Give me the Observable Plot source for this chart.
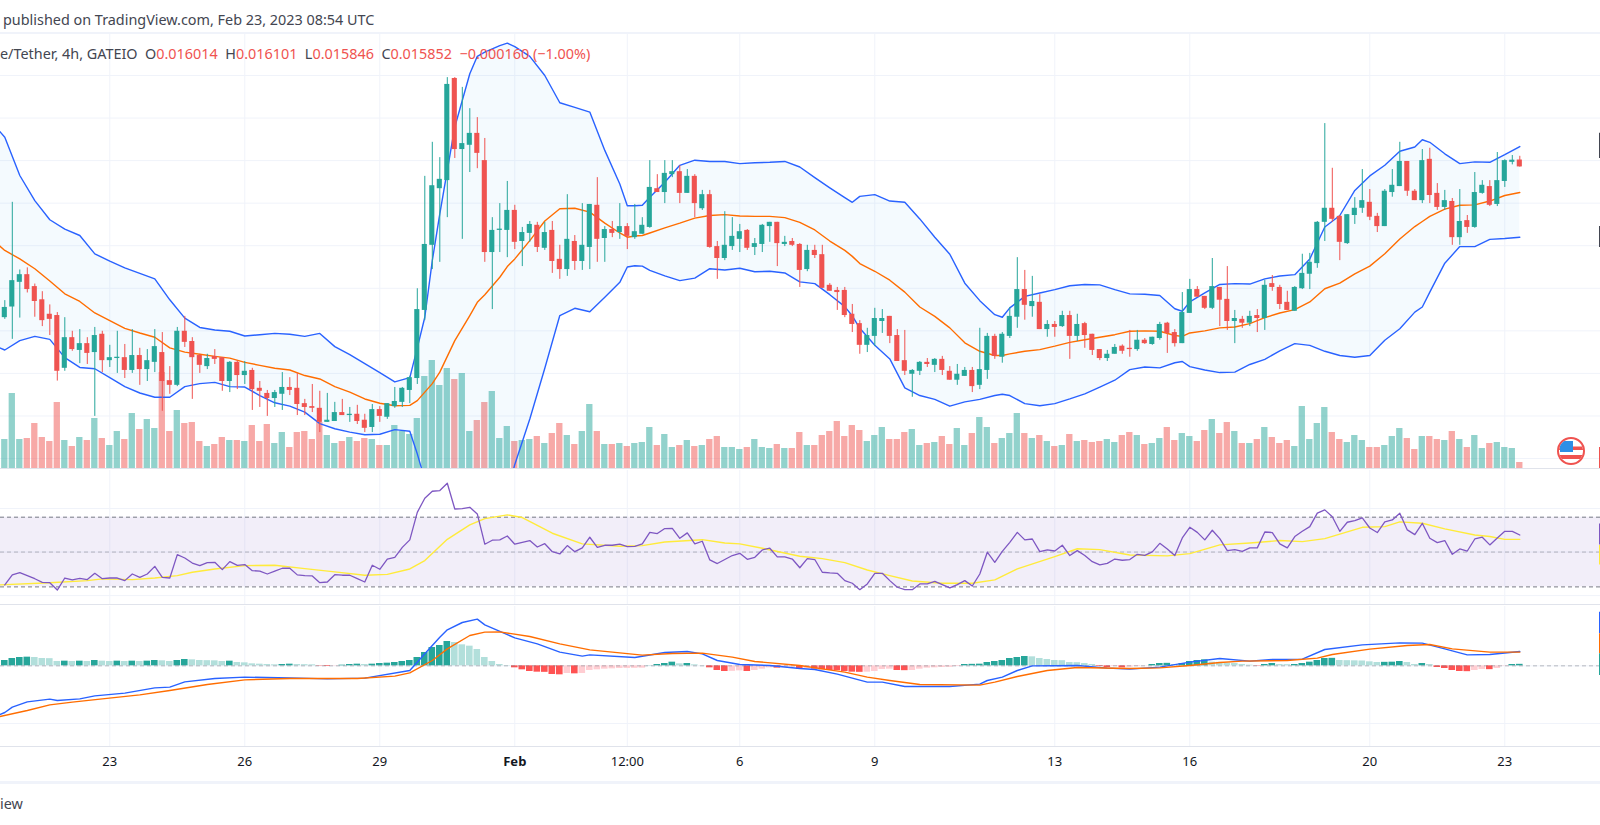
<!DOCTYPE html>
<html><head><meta charset="utf-8">
<script src="https://cdn.jsdelivr.net/npm/d3@7"></script>
<script src="https://cdn.jsdelivr.net/npm/@observablehq/plot@0.6"></script>
<style>
html,body{margin:0;padding:0;background:#fff;overflow:hidden}
#page{position:relative;width:1600px;height:825px;overflow:hidden;font-family:"Noto Sans",sans-serif;color:#131722}
.layer{position:absolute;left:0}
.layer svg{display:block;background:transparent}
.sep{position:absolute;left:0;width:1600px}
#pub{position:absolute;left:3px;top:10px;font-size:14.4px;white-space:nowrap;color:#434651}
#leg{position:absolute;left:0;top:44px;font-size:14.4px;white-space:pre;color:#434651;z-index:10}
#leg b{font-weight:400;color:#ef5350}
#foot{position:absolute;left:0;top:794px;font-size:14.4px;color:#434651;white-space:nowrap}
#flag{position:absolute;left:1556px;top:436px;z-index:11}
</style></head><body>
<div id="page">
  <div id="pub">published on TradingView.com, Feb 23, 2023 08:54 UTC</div>
  <div id="leg">e/Tether, 4h, GATEIO  O<b>0.016014</b>  H<b>0.016101</b>  L<b>0.015846</b>  C<b>0.015852</b>  <b>−0.000160 (−1.00%)</b></div>
  <div id="foot">iew</div>
  <div class="sep" style="top:32px;height:2px;background:#f0f3fa"></div>
  <div class="sep" style="top:468px;height:1px;background:#e0e3eb"></div>
  <div class="sep" style="top:604px;height:1px;background:#e0e3eb"></div>
  <div class="sep" style="top:781px;height:3px;background:#f0f3fa"></div>
  <svg id="flag" width="30" height="30" viewBox="0 0 30 30">
    <defs><clipPath id="fc"><circle cx="15" cy="15" r="12"/></clipPath></defs>
    <circle cx="15" cy="15" r="13" fill="#fff" stroke="#ef5350" stroke-width="2"/>
    <g clip-path="url(#fc)">
      <rect x="3" y="10.5" width="24" height="3.5" fill="#ef5350"/>
      <rect x="3" y="19" width="24" height="4" fill="#ef5350"/>
      <rect x="4" y="5" width="13" height="11" fill="#2d8fe6"/>
    </g>
  </svg>
</div>
<script>
// Prices are in thousandths of USDT (16.014 = 0.016014)
const open=[12.31,12.56,13.14,13.32,13.04,12.73,12.39,12.36,11.12,11.84,
11.54,11.70,11.49,11.92,11.30,11.35,11.37,11.07,11.42,11.09,
11.26,11.49,10.83,10.72,11.99,11.75,11.42,11.16,11.40,11.37,
10.81,11.26,10.95,11.07,10.65,10.53,10.41,10.51,10.67,10.65,
10.29,10.22,10.18,9.85,9.87,10.08,10.01,10.04,9.90,9.73,
10.15,9.97,10.22,10.32,10.60,10.88,12.48,14.01,15.34,15.53,
17.93,16.26,16.36,16.64,16.00,13.84,14.36,14.36,14.83,14.10,
14.29,14.48,13.94,14.36,13.68,13.44,14.10,13.63,13.96,14.95,
14.17,14.38,14.31,14.45,14.19,14.27,14.43,15.34,15.25,15.67,
15.74,15.23,15.63,14.87,15.20,13.98,13.70,13.98,14.15,14.36,
13.96,14.03,14.45,14.55,14.03,14.10,14.03,13.44,13.89,13.79,
13.07,12.95,12.95,12.39,12.17,11.66,11.87,12.22,12.34,11.89,
11.30,10.98,11.05,11.26,11.19,11.33,11.05,10.84,10.93,11.07,
10.72,11.07,11.87,11.38,11.87,12.32,12.97,12.57,12.67,12.03,
12.15,12.10,12.36,11.87,12.17,11.92,11.56,11.35,11.45,11.64,
11.59,11.56,11.78,11.68,11.82,12.18,11.96,11.70,12.41,12.97,
12.81,12.53,13.02,12.74,12.22,12.27,12.18,12.36,12.29,13.11,
13.02,12.67,12.46,12.99,13.33,13.58,14.55,14.88,14.69,14.05,
14.71,14.88,15.02,14.69,14.45,15.25,15.39,15.98,15.28,15.06,
16.03,15.23,14.90,15.04,14.19,14.59,14.43,15.23,15.39,14.97,
15.51,15.96,16.014];
const close=[12.55,13.18,13.32,12.97,12.69,12.24,12.27,11.05,11.84,11.56,
11.70,11.47,11.89,11.30,11.37,11.37,11.07,11.42,11.09,11.30,
11.63,10.81,10.72,11.99,11.73,11.37,11.19,11.35,11.33,10.81,
11.26,10.95,11.05,10.62,10.58,10.41,10.55,10.67,10.60,10.27,
10.20,10.18,9.85,9.90,10.08,10.01,10.04,9.87,9.71,10.15,
9.99,10.29,10.34,10.65,10.90,12.50,14.03,15.41,15.56,17.79,
16.26,16.40,16.64,16.17,13.84,14.36,14.38,14.83,14.08,14.31,
14.50,13.96,14.31,13.63,13.44,14.15,13.63,14.01,14.97,14.15,
14.38,14.29,14.45,14.22,14.33,14.48,15.37,15.25,15.70,15.74,
15.23,15.63,14.99,15.20,13.96,13.70,14.01,14.22,14.33,13.94,
14.05,14.48,14.55,14.05,14.08,14.01,13.42,13.89,13.77,13.00,
12.93,12.90,12.36,12.15,11.66,11.89,12.29,12.29,11.87,11.28,
11.05,11.07,11.26,11.21,11.33,11.07,10.84,10.98,11.07,10.69,
11.09,11.87,11.40,11.92,12.34,12.97,12.60,12.69,12.03,12.15,
12.08,12.36,11.87,12.15,11.89,11.54,11.35,11.45,11.61,11.52,
11.56,11.78,11.70,11.85,12.15,11.94,11.70,12.43,12.97,12.79,
12.53,13.04,12.72,12.22,12.29,12.18,12.34,12.29,13.07,13.02,
12.62,12.48,13.02,13.35,13.61,14.55,14.88,14.62,14.08,14.73,
14.88,15.06,14.67,14.45,15.28,15.42,15.98,15.28,15.06,16.00,
15.18,14.90,15.06,14.19,14.57,14.43,15.25,15.42,14.95,15.53,
16.00,16.01,15.852];
const high=[12.71,15.02,13.43,13.48,13.10,12.92,12.61,12.43,12.31,11.99,
12.03,11.84,12.08,11.99,11.66,11.99,11.68,12.03,11.59,11.56,
12.03,11.96,11.16,12.08,12.34,11.84,11.45,11.45,11.56,11.37,
11.28,11.30,11.28,11.12,10.81,10.60,10.60,11.02,10.90,11.00,
10.39,10.74,10.58,10.53,10.32,10.39,10.20,10.25,10.04,10.27,
10.22,10.29,10.67,10.67,10.93,12.99,15.63,16.43,16.07,17.95,
17.95,17.72,17.22,17.01,16.52,14.66,14.99,15.51,14.95,14.43,
14.57,14.55,14.55,14.57,14.01,15.20,14.24,14.99,14.97,15.60,
14.45,14.57,14.99,14.52,14.97,14.66,16.00,15.67,16.00,16.00,
15.88,15.79,15.67,15.30,15.30,14.10,14.80,14.66,14.50,14.38,
14.17,14.50,14.55,14.55,14.22,14.17,14.05,14.01,14.01,14.01,
13.11,13.02,13.02,12.62,12.24,12.06,12.53,12.50,12.34,12.03,
12.01,11.09,11.28,11.35,11.35,11.40,11.16,11.21,11.14,11.14,
12.06,11.94,11.92,11.96,12.55,13.72,13.42,13.28,12.85,12.24,
12.22,12.46,12.46,12.39,12.20,11.92,11.56,11.54,11.68,11.67,
12.01,12.01,11.82,11.85,12.20,12.20,12.03,12.90,13.21,13.04,
12.81,13.70,13.02,13.51,12.48,12.34,12.46,12.50,13.19,13.30,
13.07,12.93,13.04,13.80,13.82,14.57,16.87,15.82,14.71,14.73,
15.13,15.79,15.32,14.76,15.32,15.79,16.43,15.98,15.32,16.26,
16.29,15.46,15.30,15.11,15.32,14.71,15.72,15.53,15.53,16.19,
16.02,16.12,16.101];
const low=[12.27,11.80,12.30,12.89,12.32,12.10,11.89,10.82,11.05,11.52,
11.23,11.21,9.99,11.02,11.14,11.00,10.88,11.00,10.72,10.81,
11.02,10.11,10.51,10.69,11.61,10.39,11.00,11.09,11.21,10.58,
10.55,10.62,10.74,10.13,10.20,9.99,10.20,10.13,10.48,10.01,
10.01,10.08,9.61,9.85,9.87,10.01,9.85,9.80,9.61,9.61,
9.85,9.92,10.18,10.20,10.29,10.74,12.24,13.44,13.61,14.66,
16.05,14.15,15.72,15.81,13.61,12.50,13.84,13.72,13.91,13.51,
14.08,13.84,13.89,13.35,13.21,13.28,13.42,13.42,13.44,13.61,
13.61,14.19,14.15,13.91,14.15,14.27,14.41,15.25,14.99,15.60,
14.99,15.23,14.66,14.83,13.94,13.21,13.65,13.89,13.84,13.89,
13.77,13.84,14.08,13.51,13.98,13.98,13.02,13.39,13.70,13.00,
12.93,12.48,12.31,11.96,11.45,11.49,11.63,11.94,11.70,11.28,
10.95,10.44,10.95,11.14,11.02,10.95,10.84,10.72,10.93,10.55,
10.62,10.86,11.33,11.24,11.82,12.06,12.25,12.32,12.03,11.85,
11.85,12.08,11.33,11.75,11.59,11.42,11.30,11.28,11.45,11.45,
11.38,11.52,11.68,11.66,11.78,11.47,11.62,11.70,12.41,12.79,
12.50,12.50,12.10,12.01,11.70,12.06,12.10,11.96,12.01,12.93,
12.50,12.48,12.46,12.97,12.97,13.47,14.10,14.55,13.65,14.03,
14.50,14.76,14.59,14.31,14.45,15.14,15.39,15.16,15.06,14.99,
14.99,14.83,14.83,14.01,14.01,14.29,14.41,15.21,14.92,14.92,
15.37,15.90,15.846];
const volume=[87,225,87,90,135,93,81,198,84,66,93,84,150,90,69,111,87,165,117,147,
120,288,111,174,135,138,81,66,72,93,84,84,81,129,81,132,75,108,63,108,
111,87,138,99,75,81,93,81,90,87,69,69,129,111,102,150,276,324,249,300,
267,285,111,144,198,231,90,126,81,84,87,96,75,105,135,99,72,111,192,111,
72,72,75,66,75,78,123,69,102,63,69,84,66,69,87,96,63,63,57,63,
87,63,60,72,60,60,108,69,69,99,111,141,96,129,114,81,99,123,87,87,
108,117,69,75,78,96,72,120,69,105,153,123,75,90,105,165,105,90,99,81,
66,69,102,81,84,78,81,87,78,99,108,99,72,75,90,123,84,105,96,81,
114,147,105,138,111,75,75,87,123,93,75,84,66,186,87,135,183,108,87,78,
99,84,63,63,69,96,120,90,57,96,96,87,84,111,87,63,99,60,75,78,
63,60,18];

const bandIdx=[-2,0,2,4,6,8,10,12,14,16,18,20,22,24,26,28,30,32,34,36,38,40,42,44,46,48,50,52,54,55,56,57,58,60,62,63,64,66,67,68,70,72,74,76,78,80,82,83,84,85,86,88,90,92,94,96,98,100,102,104,106,108,110,112,113,114,116,118,120,122,124,126,128,130,132,133,134,136,138,140,142,144,146,148,150,152,154,156,157,158,160,162,164,166,168,170,172,174,176,178,180,182,184,186,188,189,190,192,194,196,198,200,202];
const bandUpper=[16.95,16.55,15.65,15.06,14.61,14.39,14.24,13.81,13.64,13.48,13.35,13.22,12.73,12.30,12.08,12.02,11.99,11.88,11.91,11.94,11.92,11.87,11.94,11.63,11.44,11.23,11.02,10.80,10.90,11.6,12.32,13.65,14.75,16.79,18.04,18.45,18.55,18.70,18.76,18.68,18.45,18.0,17.36,17.25,17.14,16.24,15.45,14.94,14.94,14.95,15.14,15.49,15.89,16.01,15.98,15.98,15.93,15.95,15.96,15.98,15.85,15.6,15.36,15.13,15.02,15.16,15.2,15.05,15.02,14.63,14.2,13.8,13.12,12.71,12.38,12.32,12.54,12.81,12.89,12.97,13.06,13.09,13.08,12.97,12.87,12.86,12.83,12.52,12.46,12.68,12.89,13.09,13.11,13.1,13.22,13.29,13.32,13.69,14.44,14.71,15.3,15.64,15.89,16.22,16.32,16.49,16.43,16.16,15.93,15.97,15.96,16.14,16.33];
const bandBasis=[14.2,13.89,13.69,13.46,13.17,12.87,12.69,12.42,12.24,12.06,11.95,11.85,11.6,11.5,11.45,11.4,11.36,11.26,11.19,11.12,11.08,10.95,10.87,10.69,10.56,10.4,10.3,10.24,10.25,10.36,10.56,10.76,11.03,11.77,12.36,12.67,12.85,13.26,13.51,13.69,14.12,14.58,14.87,14.88,14.79,14.53,14.3,14.2,14.23,14.24,14.3,14.42,14.53,14.65,14.71,14.73,14.7,14.69,14.69,14.66,14.55,14.37,14.11,13.89,13.75,13.58,13.4,13.19,12.91,12.56,12.34,12.07,11.72,11.52,11.42,11.42,11.46,11.52,11.56,11.64,11.73,11.79,11.85,11.91,11.99,12.0,11.99,11.89,11.87,11.95,12.0,12.07,12.09,12.17,12.31,12.42,12.5,12.68,12.99,13.12,13.34,13.52,13.81,14.16,14.45,14.57,14.69,14.86,14.95,14.96,15.05,15.18,15.25];
const bandLower=[11.7,11.55,11.77,11.87,11.8,11.37,11.14,11.11,10.9,10.69,10.54,10.44,10.44,10.69,10.76,10.79,10.69,10.68,10.48,10.31,10.23,10.09,9.82,9.7,9.62,9.56,9.57,9.68,9.64,9.11,8.5,7.87,7.31,6.75,6.68,6.89,7.15,7.82,8.2,8.86,9.93,11.12,12.36,12.53,12.45,12.79,13.14,13.5,13.53,13.52,13.42,13.29,13.18,13.24,13.46,13.43,13.47,13.39,13.4,13.36,13.15,13.11,12.85,12.57,12.35,12.06,11.66,11.34,10.66,10.48,10.39,10.23,10.33,10.39,10.48,10.51,10.48,10.29,10.24,10.29,10.4,10.52,10.68,10.84,11.09,11.15,11.13,11.25,11.28,11.16,11.08,11.02,11.03,11.21,11.33,11.53,11.7,11.66,11.52,11.42,11.38,11.42,11.78,12.05,12.44,12.56,12.91,13.59,13.98,13.98,14.15,14.17,14.2];

const rsi=[31.1,36.9,38.2,36.5,34.7,32.6,32.4,28.2,35.1,34.0,34.9,34.2,37.8,34.7,35.1,35.1,33.6,37.4,35.5,37.4,
41.8,35.5,35.1,48.5,46.6,43.7,42.2,43.9,44.1,39.9,44.5,42.4,42.8,39.3,39.1,37.4,39.1,40.7,40.7,36.9,
36.5,36.3,32.4,32.8,37.0,36.7,36.7,34.7,32.8,42.4,40.1,46.0,47.0,52.7,57.0,72.8,80.9,84.9,85.3,89.5,
74.7,74.9,75.7,71.9,54.5,56.8,57.0,59.2,54.5,55.6,56.6,52.9,54.8,50.2,48.9,53.7,50.2,52.4,58.5,52.7,
53.9,53.9,54.5,53.1,53.3,54.7,61.3,60.6,63.5,63.6,57.9,61.0,54.7,56.2,45.5,43.4,45.7,48.0,49.3,45.8,
47.0,51.2,52.2,47.2,47.2,46.0,41.0,46.2,45.7,38.4,38.0,37.8,33.6,32.1,28.4,31.7,37.8,37.8,33.6,29.8,
28.4,28.4,31.7,31.7,33.2,31.3,29.4,31.3,33.6,30.5,37.4,49.9,44.1,50.4,55.6,61.3,57.0,57.5,50.2,51.2,
50.6,53.9,48.0,50.8,48.0,44.5,42.6,43.5,46.0,45.3,45.7,48.7,48.1,50.1,55.0,51.8,48.0,58.1,64.2,61.3,
57.0,62.5,57.7,50.8,51.4,50.4,52.4,52.4,61.5,61.2,54.7,52.4,58.9,61.9,64.6,72.3,74.2,70.3,61.9,67.1,
68.0,69.6,63.8,61.2,67.3,68.4,72.3,62.7,60.0,66.5,57.9,55.4,56.6,48.7,51.8,50.6,57.5,58.5,54.1,58.1,
61.9,61.9,59.8];
const rsiMaIdx=[-1,6,11,13,17,20,23,25,28,32,36,40,44,48,51,54,56,59,62,64,67,69,73,77,82,85,88,93,96,98,101,106,109,112,115,118,121,125,129,132,135,140,143,146,150,155,158,162,166,170,173,176,181,184,186,189,192,196,198,200,202];
const rsiMa=[31.1,32.4,33.6,34.6,34.2,35.1,36.5,38.4,40.3,42.2,42.4,40.5,38.6,36.7,37.2,40.3,45.1,57.3,65.6,69.2,71.3,69.8,60.8,54.7,53.3,53.7,55.8,57.1,55.2,54.7,52.2,47.6,46.2,43.9,39.7,36.5,33.4,32.1,32.1,34.0,40.3,47.4,51.9,51.4,48.3,47.8,49.1,54.1,55.2,56.6,56.0,57.7,64.2,64.6,67.3,66.5,63.3,59.8,58.9,57.3,57.3];
const rsiLevels=[70,30];
const rsiGrid=[25,50,75];

const macdIdx=[-1,0,1,3,6,7,10,12,16,20,22,24,28,32,38,43,48,54,56,58,59,61,63,64,68,71,74,77,78,84,88,91,93,95,98,102,106,108,111,115,117,120,126,130,131,133,135,137,143,147,150,154,158,162,166,169,173,176,181,186,189,192,195,198,202];
const macdLine=[-1.49,-1.40,-1.24,-1.08,-1.00,-1.04,-0.99,-0.90,-0.82,-0.66,-0.64,-0.48,-0.38,-0.34,-0.36,-0.39,-0.37,-0.14,0.36,0.86,1.08,1.30,1.40,1.23,0.84,0.66,0.41,0.29,0.33,0.25,0.40,0.43,0.36,0.16,0.04,0.01,-0.08,-0.11,-0.25,-0.49,-0.49,-0.62,-0.62,-0.55,-0.44,-0.34,-0.14,0,0.01,-0.07,-0.10,-0.04,0.11,0.22,0.14,0.19,0.20,0.49,0.63,0.69,0.68,0.51,0.33,0.34,0.43];
const signalIdx=[-1,3,6,9,13,18,22,27,32,38,47,52,54,57,59,62,64,66,70,74,78,85,89,93,97,100,106,109,112,115,118,122,130,132,135,139,143,150,154,158,162,165,171,175,177,182,187,190,193,198,202];
const signalLine=[-1.54,-1.34,-1.17,-1.09,-0.99,-0.87,-0.74,-0.56,-0.42,-0.38,-0.38,-0.31,-0.21,0.16,0.51,0.91,1.01,1.02,0.88,0.66,0.48,0.32,0.37,0.38,0.26,0.13,0.01,-0.09,-0.19,-0.34,-0.44,-0.56,-0.58,-0.49,-0.32,-0.14,-0.05,-0.08,-0.06,0.01,0.10,0.14,0.16,0.23,0.34,0.50,0.61,0.64,0.51,0.41,0.41];
const macdHist=[.16,.22,.25,.26,.25,.22,.215,.13,.14,.13,.14,.13,.16,.14,.13,.14,.13,.14,.13,.14,
.16,.15,.13,.16,.19,.18,.16,.155,.15,.13,.14,.10,.09,.06,.05,.04,.03,.04,.05,.04,
.035,.03,-.01,-.02,-.01,.02,.04,.05,.04,.05,.07,.08,.10,.13,.16,.25,.40,.55,.61,.73,
.70,.63,.59,.49,.25,.13,.04,.01,-.06,-.12,-.17,-.19,-.195,-.26,-.27,-.23,-.24,-.23,-.14,-.12,
-.10,-.09,-.08,-.078,-.075,-.07,.005,.04,.07,.11,.06,.07,.03,.005,-.06,-.14,-.17,-.165,-.15,-.17,
-.14,-.10,-.06,-.07,-.04,-.035,-.10,-.08,-.10,-.12,-.14,-.145,-.17,-.19,-.195,-.19,-.17,-.11,-.10,-.14,
-.145,-.14,-.10,-.07,-.06,-.05,-.045,-.02,.04,.045,.05,.10,.13,.16,.22,.25,.28,.27,.22,.19,
.16,.155,.10,.095,.07,.04,-.02,-.05,-.02,-.06,-.04,-.02,-.005,.04,.07,.075,.04,.07,.13,.16,
.18,.11,.105,.08,.07,.04,.02,-.01,.04,.07,.04,.035,.04,.07,.11,.16,.22,.225,.16,.155,
.15,.145,.12,.10,.105,.11,.13,.10,.04,.07,.04,-.05,-.08,-.14,-.17,-.175,-.14,-.11,-.115,-.08,
-.01,.04,.045];
const macdGrid=[0,-1.73];

// Time axis: candle index of each labelled tick
const plainTicks=[14,32,50,83,98,116,140,158,182,200];
const plainLabels=["23","26","29","12:00","6","9","13","16","20","23"];
const boldTicks=[68];
const boldLabels=["Feb"];
const allTicks=[...plainTicks,...boldTicks];
const priceGrid=[9,10,11,12,13,14,15,16,17,18];

const up="#26a69a",down="#ef5350";
const candles=open.map((o,i)=>({i,o,h:high[i],l:low[i],c:close[i],v:volume[i],col:close[i]>=o?up:down}));
const band=bandIdx.map((i,k)=>({i,u:bandUpper[k],b:bandBasis[k],l:bandLower[k]}));
const rsiRows=rsi.map((v,i)=>({i,v}));
const rsiMaRows=rsiMaIdx.map((i,k)=>({i,v:rsiMa[k]}));
const macdRows=macdIdx.map((i,k)=>({i,v:macdLine[k]}));
const sigRows=signalIdx.map((i,k)=>({i,v:signalLine[k]}));
const histRows=macdHist.map((v,i)=>{
  const p=i?macdHist[i-1]:0, rising=p<v;
  return {i,v,col:v>=0?(rising?"#26a69a":"#b2dfdb"):(rising?"#ffcdd2":"#ff5252")};
});

const xDomain=[-0.5733,212.76];
const xScale={domain:xDomain,range:[0,1600],axis:null};
const base={width:1600,marginLeft:0,marginRight:0,marginTop:0,style:{background:"transparent"}};
const gridLine={stroke:"#f0f3fa",strokeOpacity:1,strokeWidth:1};
const xGrid=()=>Plot.ruleX(allTicks,gridLine);
const edge=(y1,y2,stroke)=>Plot.ruleX([xDomain[1]],{y1,y2,stroke,strokeWidth:3,clip:true});

function add(plot,top){plot.classList.add("layer");plot.style.top=top+"px";plot.style.position="absolute";document.getElementById("page").appendChild(plot);}

const priceY={domain:[8.766,18.963],axis:null};

// Price pane: grid layer
add(Plot.plot({...base,height:434,marginBottom:0,x:xScale,y:priceY,marks:[
  Plot.ruleY(priceGrid,gridLine),xGrid()
]}),34);

// Price pane: volume layer
add(Plot.plot({...base,height:434,marginBottom:0,x:xScale,y:{domain:[0,1302],axis:null},marks:[
  Plot.rectY(candles,{x1:d=>d.i-0.42,x2:d=>d.i+0.42,y1:0,y2:"v",fill:"col",fillOpacity:0.5}),
  edge(0,63,down)
],color:{type:"identity"}}),34);

// Price pane: bands and candles
add(Plot.plot({...base,height:434,marginBottom:0,x:xScale,y:priceY,color:{type:"identity"},marks:[
  Plot.areaY(band,{x:"i",y1:"l",y2:"u",fill:"#2196f3",fillOpacity:0.05,clip:true}),
  Plot.line(band,{x:"i",y:"u",stroke:"#2962ff",strokeWidth:1.4,clip:true}),
  Plot.line(band,{x:"i",y:"l",stroke:"#2962ff",strokeWidth:1.4,clip:true}),
  Plot.line(band,{x:"i",y:"b",stroke:"#ff6d00",strokeWidth:1.4,clip:true}),
  Plot.ruleX(candles,{x:"i",y1:"l",y2:"h",stroke:"col",strokeWidth:1}),
  Plot.rect(candles,{x1:d=>d.i-0.34,x2:d=>d.i+0.34,y1:"o",y2:d=>Math.abs(d.c-d.o)<0.03?d.o+(d.c>=d.o?0.03:-0.03):d.c,fill:"col"}),
  edge(13.96,14.45,"#434651"),edge(16.05,16.64,"#434651")
]}),34);

// RSI pane
add(Plot.plot({...base,height:134,marginBottom:0,x:xScale,y:{domain:[19.9,96.8],axis:null},marks:[
  Plot.ruleY(rsiGrid,gridLine),xGrid(),
  Plot.rect([{}],{x1:xDomain[0],x2:xDomain[1],y1:rsiLevels[1],y2:rsiLevels[0],fill:"#7e57c2",fillOpacity:0.1}),
  Plot.ruleY(rsiLevels,{stroke:"#787b86",strokeWidth:1,strokeDasharray:"4,3"}),
  Plot.ruleY([50],{stroke:"#787b86",strokeOpacity:0.5,strokeWidth:1,strokeDasharray:"4,3"}),
  Plot.line(rsiMaRows,{x:"i",y:"v",stroke:"#ffeb3b",strokeWidth:1.4,clip:true}),
  Plot.line(rsiRows,{x:"i",y:"v",stroke:"#7e57c2",strokeWidth:1.3,clip:true}),
  edge(54,66.1,"#7e57c2"),edge(42.5,53.7,"#ffeb3b")
]}),470);

// MACD pane and time axis
add(Plot.plot({...base,height:175,marginBottom:35,x:xScale,y:{domain:[-2.42,1.78],axis:null},color:{type:"identity"},marks:[
  Plot.ruleY(macdGrid,gridLine),xGrid(),
  Plot.rect(histRows,{x1:d=>d.i-0.44,x2:d=>d.i+0.44,y1:0,y2:"v",fill:"col"}),
  Plot.ruleY([0],{stroke:"#787b86",strokeOpacity:0.5,strokeWidth:1,strokeDasharray:"4,3"}),
  Plot.line(macdRows,{x:"i",y:"v",stroke:"#2962ff",strokeWidth:1.4,clip:true}),
  Plot.line(sigRows,{x:"i",y:"v",stroke:"#ff6d00",strokeWidth:1.4,clip:true}),
  edge(0.96,1.61,"#2962ff"),edge(0.36,0.96,"#ff6d00"),edge(-0.29,0.36,up),
  Plot.frame({anchor:"bottom",stroke:"#e0e3eb"}),
  Plot.axisX(plainTicks,{label:null,tickSize:0,tickPadding:10,fontSize:13,fill:"#131722",stroke:null,
    tickFormat:d=>plainLabels[plainTicks.indexOf(d)],fontFamily:"Noto Sans"}),
  Plot.axisX(boldTicks,{label:null,tickSize:0,tickPadding:10,fontSize:13,fontWeight:700,fill:"#131722",stroke:null,
    tickFormat:d=>boldLabels[boldTicks.indexOf(d)],fontFamily:"Noto Sans"})
]}),606);
</script>
</body></html>
